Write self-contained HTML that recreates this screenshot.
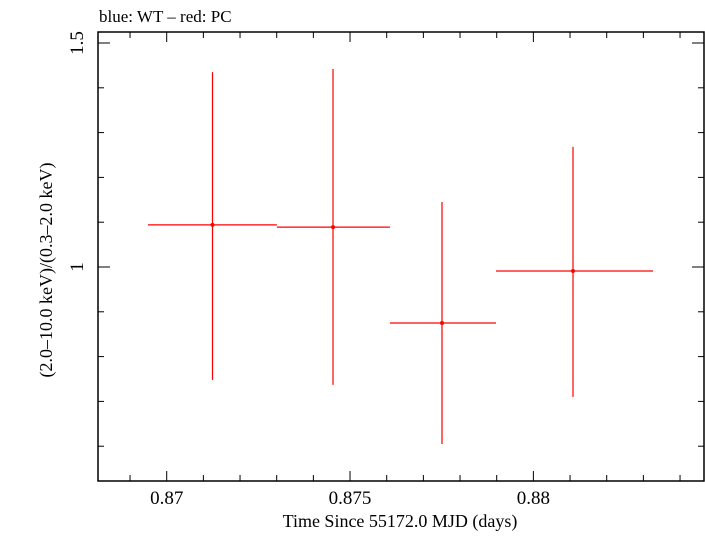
<!DOCTYPE html>
<html><head><meta charset="utf-8"><style>
body{margin:0;background:#fff;}
svg text{font-family:"Liberation Serif",serif;fill:#000;}
</style></head><body>
<svg width="705" height="532" xmlns="http://www.w3.org/2000/svg">
<text x="99" y="22" font-size="17">blue: WT – red: PC</text>
<rect x="98" y="32" width="606" height="449" fill="none" stroke="#000" stroke-width="1.5"/>
<g id="axes"></g>
<g id="marks"></g>
<text x="400" y="527" font-size="18" text-anchor="middle">Time Since 55172.0 MJD (days)</text>
<text transform="translate(52,270) rotate(-90)" font-size="18" text-anchor="middle">(2.0–10.0 keV)/(0.3–2.0 keV)</text>
</svg>
<script>
const xCenters=[0.871249,0.874536,0.877508,0.881081];
const xLow=[0.86949,0.873005,0.876087,0.878981];
const xHigh=[0.873005,0.876087,0.878981,0.883263];
const yValues=[1.094,1.089,0.875,0.991];
const yLow=[0.748,0.737,0.605,0.710];
const yHigh=[1.435,1.442,1.145,1.268];
const xTickLabels=["0.87","0.875","0.88"];
const xTickValues=[0.87,0.875,0.88];
const yTickLabels=["1","1.5"];
const yTickValues=[1,1.5];
const L=98,R=704,T=32,B=481;
const X=t=>166.7+(t-0.87)*36667;
const Y=v=>267-(v-1)*448;
const NS="http://www.w3.org/2000/svg";
const axes=document.getElementById('axes'),marks=document.getElementById('marks');
function ln(p,x1,y1,x2,y2,c,w){const l=document.createElementNS(NS,'line');l.setAttribute('x1',x1);l.setAttribute('y1',y1);l.setAttribute('x2',x2);l.setAttribute('y2',y2);l.setAttribute('stroke',c);l.setAttribute('stroke-width',w);p.appendChild(l);return l;}
for(let i=0;i<=16;i++){const t=0.868+i*0.001;const x=X(t);if(x<L+1||x>R-1)continue;const major=Math.abs((t*1000)%5)<1e-6||Math.abs((t*1000)%5-5)<1e-6;const h=major?10:6;
const a=ln(axes,x,B,x,B-h,'#000',1);
const b=ln(axes,x,T,x,T+h,'#000',1);}
for(let i=0;i<12;i++){const v=0.5+i*0.1;const y=Y(v);if(y<T+1||y>B-1)continue;const major=Math.abs(v-1)<1e-6||Math.abs(v-1.5)<1e-6;const h=major?12:6;
const a=ln(axes,L,y,L+h,y,'#000',1);
const b=ln(axes,R,y,R-h,y,'#000',1);}
xTickValues.forEach((t,i)=>{const e=document.createElementNS(NS,'text');e.setAttribute('x',X(t));e.setAttribute('y',504);e.setAttribute('font-size','19');e.setAttribute('text-anchor','middle');e.textContent=xTickLabels[i];


axes.appendChild(e);});
yTickValues.forEach((v,i)=>{const e=document.createElementNS(NS,'text');e.setAttribute('transform','translate(83,'+Y(v)+') rotate(-90)');e.setAttribute('font-size','19');e.setAttribute('text-anchor','middle');e.textContent=yTickLabels[i];


axes.appendChild(e);});
xCenters.forEach((t,i)=>{const g=document.createElementNS(NS,'g');


ln(g,X(xLow[i]),Y(yValues[i]),X(xHigh[i]),Y(yValues[i]),'#f00',1.2);
ln(g,X(t),Y(yLow[i]),X(t),Y(yHigh[i]),'#f00',1.2);
const c=document.createElementNS(NS,'circle');c.setAttribute('cx',X(t));c.setAttribute('cy',Y(yValues[i]));c.setAttribute('r',2);c.setAttribute('fill','#f00');g.appendChild(c);
marks.appendChild(g);});
</script>
</body></html>
